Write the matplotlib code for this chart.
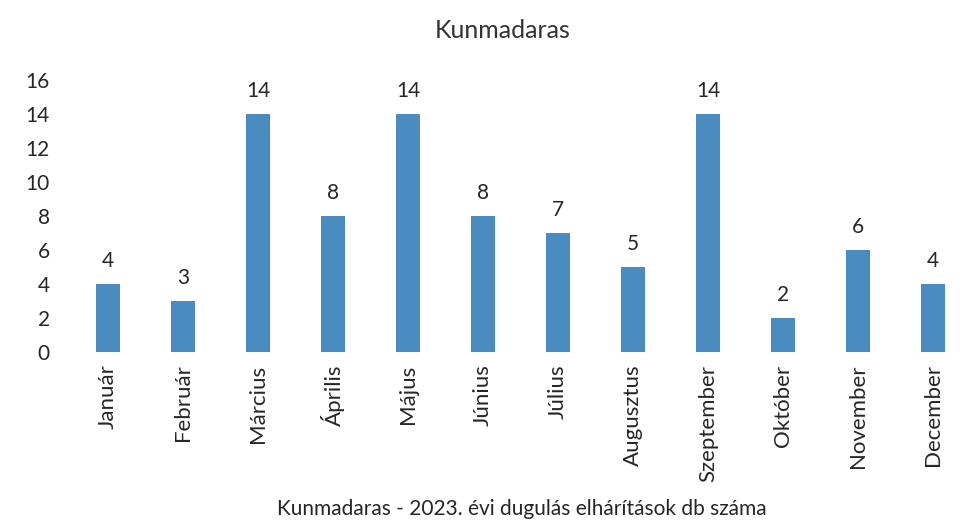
import matplotlib.pyplot as plt

months = ["Január", "Február", "Március", "Április", "Május", "Június",
          "Július", "Augusztus", "Szeptember", "Október", "November", "December"]
counts = [4, 3, 14, 8, 14, 8, 7, 5, 14, 2, 6, 4]

plt.rcParams['font.family'] = ['Lato', 'DejaVu Sans']

fig = plt.figure(figsize=(9.6, 5.21), dpi=100)
ax = fig.add_axes([70.5 / 960, 169 / 521, 889.5 / 960, 272 / 521])

bars = ax.bar(range(len(months)), counts, width=0.33, color="#4a8cc0")
for b, v in zip(bars, counts):
    ax.text(b.get_x() + b.get_width() / 2, v + 0.75, str(v),
            ha="center", va="bottom", fontsize=15, color="#262626")

ax.set_xlim(-0.5, 11.36)
ax.set_ylim(0, 16)
ax.set_yticks(range(0, 17, 2))
ax.set_xticks(range(len(months)))
ax.set_xticklabels(months, rotation=90, fontsize=16, color="#262626")
ax.tick_params(axis="y", labelsize=15, labelcolor="#262626", length=0, pad=15)
ax.tick_params(axis="x", length=0, pad=9)
for s in ax.spines.values():
    s.set_visible(False)

fig.text(503 / 960, 1 - 31 / 521, "Kunmadaras", ha="center", va="center",
         fontsize=18, color="#333333")
fig.text(522 / 960, 1 - 509 / 521, "Kunmadaras - 2023. évi dugulás elhárítások db száma",
         ha="center", va="center", fontsize=15, color="#262626")

fig.savefig("out.png", dpi=100)
plt.close(fig)
